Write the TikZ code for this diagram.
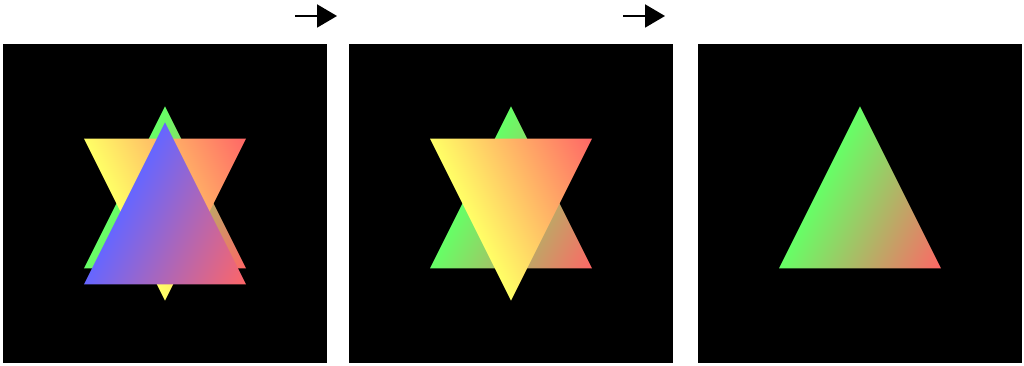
\documentclass[tikz,border=0pt]{standalone}
\usetikzlibrary{arrows.meta}

% degrades des sommets (vert/bleu vers rouge, jaune vers rouge)
\pgfdeclarefunctionalshading{upgreen}{\pgfpointorigin}{\pgfpoint{100bp}{100bp}}{}{
	0.5 mul sub 12.5 sub 50 div
	dup 0.6 mul 0.4 add exch 0.6 mul 1 exch sub 0.4
}
\pgfdeclarefunctionalshading{upblue}{\pgfpointorigin}{\pgfpoint{100bp}{100bp}}{}{
	0.5 mul sub 12.5 sub 50 div
	dup 0.6 mul 0.4 add exch 0.4 exch 0.6 mul 1 exch sub
}
\pgfdeclarefunctionalshading{downyellow}{\pgfpointorigin}{\pgfpoint{100bp}{100bp}}{}{
	0.5 mul add 62.5 sub 50 div
	1 exch 0.6 mul 1 exch sub 0.4
}

\begin{document}
\begin{tikzpicture}[x=0.25mm, y=0.25mm]
	\useasboundingbox (0,0) rectangle (1024,366);
	% fonds noirs
	\foreach \x in {3,349,698} {
		\fill[black] (\x,3) rectangle (\x+324,322);
	}
	% fleches
	\coordinate (arr1s) at (295,350);
	\coordinate (arr1e) at (337,350);
	\coordinate (arr2s) at (623,350);
	\coordinate (arr2e) at (665,350);
	\draw[-{Triangle[length=5mm, width=5.75mm]}, line width=0.5mm] (arr1s) -- (arr1e);
	\draw[-{Triangle[length=5mm, width=5.75mm]}, line width=0.5mm] (arr2s) -- (arr2e);
	% trois triangles
	\begin{scope}[shift={(165,162.5)}, x=40.5mm, y=40.5mm]
		\shade[shading=upgreen] (-0.5,-0.4) -- (0.5,-0.4) -- (0,0.6) -- cycle;
		\shade[shading=downyellow] (-0.5,0.4) -- (0.5,0.4) -- (0,-0.6) -- cycle;
		\shade[shading=upblue] (-0.5,-0.5) -- (0.5,-0.5) -- (0,0.5) -- cycle;
	\end{scope}
	% deux triangles
	\begin{scope}[shift={(511,162.5)}, x=40.5mm, y=40.5mm]
		\shade[shading=upgreen] (-0.5,-0.4) -- (0.5,-0.4) -- (0,0.6) -- cycle;
		\shade[shading=downyellow] (-0.5,0.4) -- (0.5,0.4) -- (0,-0.6) -- cycle;
	\end{scope}
	% un triangle
	\begin{scope}[shift={(860,162.5)}, x=40.5mm, y=40.5mm]
		\shade[shading=upgreen] (-0.5,-0.4) -- (0.5,-0.4) -- (0,0.6) -- cycle;
	\end{scope}
\end{tikzpicture}
\end{document}
